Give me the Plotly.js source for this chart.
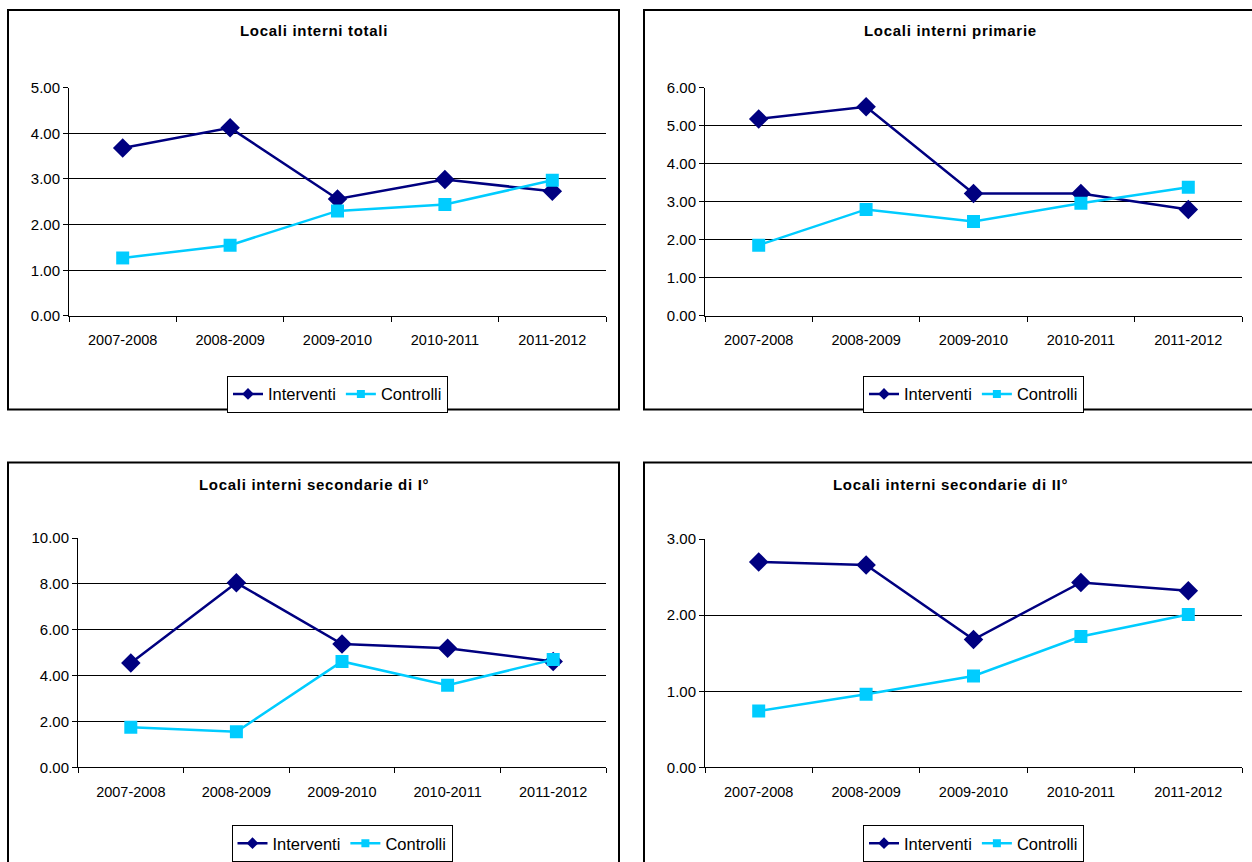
<!DOCTYPE html>
<html>
<head>
<meta charset="utf-8">
<script src="https://cdn.plot.ly/plotly-3.0.1.min.js"></script>
<style>
  html, body { margin: 0; padding: 0; background: #ffffff; }
  #chart { width: 1252px; height: 862px; }
  .annotation-text { letter-spacing: 0.7px; }
</style>
</head>
<body>
<div id="chart"></div>
<script>
// ---- Data ----
const categories = ['2007-2008', '2008-2009', '2009-2010', '2010-2011', '2011-2012'];
const seriesNames = ['Interventi', 'Controlli'];

const panelTitles = [
  'Locali interni totali',
  'Locali interni primarie',
  'Locali interni secondarie di I°',
  'Locali interni secondarie di II°'
];

const totaliInterventi = [3.68, 4.12, 2.56, 2.99, 2.73];
const totaliControlli = [1.27, 1.55, 2.30, 2.44, 2.97];

const primarieInterventi = [5.18, 5.50, 3.22, 3.22, 2.80];
const primarieControlli = [1.86, 2.80, 2.48, 2.96, 3.38];

const secondarie1Interventi = [4.55, 8.05, 5.38, 5.19, 4.62];
const secondarie1Controlli = [1.75, 1.55, 4.62, 3.58, 4.70];

const secondarie2Interventi = [2.70, 2.66, 1.68, 2.43, 2.32];
const secondarie2Controlli = [0.74, 0.96, 1.20, 1.72, 2.01];

const yMaxima = [5, 6, 10, 3];
const yTickSteps = [1, 1, 2, 1];

// ---- Layout helpers ----
const W = 1252, H = 862;
const px = x => x / W;
const py = y => 1 - y / H;

const panelData = [
  [totaliInterventi, totaliControlli],
  [primarieInterventi, primarieControlli],
  [secondarie1Interventi, secondarie1Controlli],
  [secondarie2Interventi, secondarie2Controlli]
];

// plot areas [left, right, top, bottom] in pixels
const plotAreas = [
  [69, 606, 88, 317],
  [705, 1242, 88, 317],
  [78, 606, 540, 770],
  [705, 1242, 541, 770]
];
// panel frames [left, right, top, bottom]
const frames = [
  [8, 619, 10, 411],
  [644, 1258, 10, 411],
  [8, 619, 464, 868],
  [644, 1258, 464, 868]
];
const titleY = [31, 31, 486, 486];
const legendTop = [377, 377, 828, 828];

const NAVY = '#000080';
const CYAN = '#00CCFF';
const FONT = 'Liberation Sans, Arial, sans-serif';

const traces = [];
const layout = {
  width: W, height: H,
  margin: { l: 0, r: 0, t: 0, b: 0 },
  paper_bgcolor: '#ffffff',
  plot_bgcolor: '#ffffff',
  font: { family: FONT, size: 14, color: '#000000' },
  showlegend: true,
  shapes: [],
  annotations: []
};

for (let i = 0; i < 4; i++) {
  const n = i === 0 ? '' : String(i + 1);
  const xa = 'x' + n, ya = 'y' + n;
  const legendId = i === 0 ? 'legend' : 'legend' + (i + 1);
  const [l, r, t, b] = plotAreas[i];

  // data traces
  traces.push({
    type: 'scatter', mode: 'lines+markers',
    x: categories, y: panelData[i][0],
    xaxis: xa, yaxis: ya, name: seriesNames[0], showlegend: false,
    line: { color: NAVY, width: 2.5 },
    marker: { symbol: 'diamond', size: 15, color: NAVY },
    hoverinfo: 'x+y'
  });
  traces.push({
    type: 'scatter', mode: 'lines+markers',
    x: categories, y: panelData[i][1],
    xaxis: xa, yaxis: ya, name: seriesNames[1], showlegend: false,
    line: { color: CYAN, width: 2.5 },
    marker: { symbol: 'square', size: 13, color: CYAN },
    hoverinfo: 'x+y'
  });
  // legend-only entries with smaller symbols
  traces.push({
    type: 'scatter', mode: 'lines+markers',
    x: [null], y: [null], xaxis: xa, yaxis: ya,
    name: seriesNames[0], legend: legendId, showlegend: true,
    line: { color: NAVY, width: 2.5 },
    marker: { symbol: 'diamond', size: 9, color: NAVY }
  });
  traces.push({
    type: 'scatter', mode: 'lines+markers',
    x: [null], y: [null], xaxis: xa, yaxis: ya,
    name: seriesNames[1], legend: legendId, showlegend: true,
    line: { color: CYAN, width: 2.5 },
    marker: { symbol: 'square', size: 8, color: CYAN }
  });

  layout['xaxis' + n] = {
    domain: [px(l), px(r)], anchor: ya,
    type: 'category', categoryorder: 'array', categoryarray: categories,
    range: [-0.5, 4.5],
    showline: true, linecolor: '#000000', linewidth: 1,
    ticks: 'outside', tickson: 'boundaries', ticklen: 5, tickcolor: '#000000', tickwidth: 1,
    ticklabelstandoff: 11,
    showgrid: false, zeroline: false,
    tickfont: { family: FONT, size: 14.5, color: '#000000' },
    fixedrange: true
  };
  layout['yaxis' + n] = {
    domain: [py(b), py(t)], anchor: xa,
    range: [0, yMaxima[i]], dtick: yTickSteps[i], tick0: 0,
    tickformat: '.2f',
    showline: true, linecolor: '#000000', linewidth: 1,
    ticks: 'outside', ticklen: 5, tickcolor: '#000000', tickwidth: 1,
    showgrid: true, gridcolor: '#000000', gridwidth: 1,
    zeroline: false,
    tickfont: { family: FONT, size: 15, color: '#000000' },
    fixedrange: true
  };

  layout[legendId] = {
    orientation: 'h',
    x: px((l + r) / 2), xanchor: 'center',
    y: py(legendTop[i]), yanchor: 'top',
    bgcolor: '#ffffff', bordercolor: '#000000', borderwidth: 1,
    font: { family: FONT, size: 16.5, color: '#000000' },
    itemclick: false, itemdoubleclick: false
  };

  const [fl, fr, ft, fb] = frames[i];
  layout.shapes.push({
    type: 'rect', xref: 'paper', yref: 'paper',
    x0: px(fl), x1: px(fr), y0: py(fb), y1: py(ft),
    line: { color: '#000000', width: 2 }, fillcolor: 'rgba(0,0,0,0)'
  });

  layout.annotations.push({
    xref: 'paper', yref: 'paper',
    x: px((fl + Math.min(fr, 1256)) / 2), y: py(titleY[i]),
    xanchor: 'center', yanchor: 'middle',
    text: '<b>' + panelTitles[i] + '</b>', showarrow: false,
    font: { family: FONT, size: 15, color: '#000000' }
  });
}

Plotly.newPlot('chart', traces, layout, { displayModeBar: false, staticPlot: false });
</script>
</body>
</html>
